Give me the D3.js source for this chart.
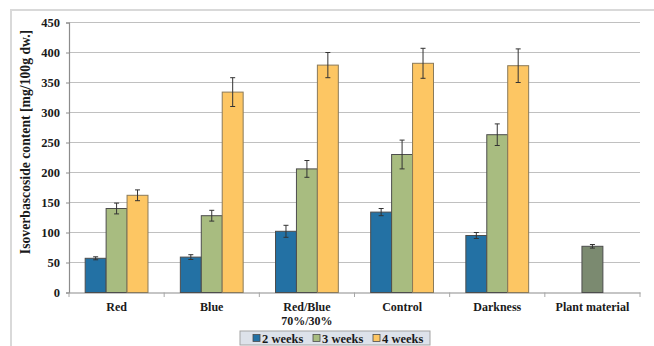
<!DOCTYPE html>
<html>
<head>
<meta charset="utf-8">
<script src="https://cdn.jsdelivr.net/npm/d3@7"></script>
<style>
  html, body { margin: 0; padding: 0; background: #ffffff; }
  svg { display: block; }
  text { font-family: "Liberation Serif", "Times New Roman", serif; font-weight: bold; fill: #1a1a1a; }
</style>
</head>
<body>
<svg id="chart" width="654" height="346"></svg>
<script>
// Isoverbascoside content by light treatment and culture time
const categories = ["Red", "Blue", "Red/Blue\n70%/30%", "Control", "Darkness", "Plant material"];
const seriesNames = ["2 weeks", "3 weeks", "4 weeks"];
const weeks2 = [57, 59, 102, 134, 95, null];
const weeks3 = [140, 128, 206, 230, 263, 77];
const weeks4 = [162, 334, 379, 382, 378, null];
const err2 = [2.5, 4, 10, 6, 5, null];
const err3 = [9, 9, 14, 24, 18, 3];
const err4 = [9, 24, 21, 25, 28, null];
const yTicks = [0, 50, 100, 150, 200, 250, 300, 350, 400, 450];

const seriesColors = ["#2371a4", "#a8bc80", "#fdc663"];
const plantColor = "#7b8a70";

const svg = d3.select("#chart");

// outer chart frame
svg.append("path")
  .attr("d", "M11,346 V10 H654")
  .attr("fill", "none")
  .attr("stroke", "#d9d9d9")
  .attr("stroke-width", 2);

const x = d3.scaleBand().domain(categories).range([69, 640]).padding(0);
const y = d3.scaleLinear().domain([0, 450]).range([292.5, 22.5]);
const barW = x.bandwidth() * 0.22;

// gridlines
svg.append("g")
  .selectAll("line")
  .data(yTicks.filter(d => d > 0))
  .join("line")
  .attr("x1", 69).attr("x2", 640)
  .attr("y1", d => y(d)).attr("y2", d => y(d))
  .attr("stroke", "#c0c0c0")
  .attr("stroke-width", 1.2);

// y axis
const yAxis = svg.append("g")
  .attr("transform", "translate(69,0)")
  .call(d3.axisLeft(y).tickValues(yTicks).tickSize(3).tickPadding(6))
  .attr("font-family", null);
yAxis.select(".domain").attr("stroke", "#8c8c8c").attr("stroke-width", 1.2);
yAxis.selectAll(".tick line").attr("stroke", "#8c8c8c");
yAxis.selectAll(".tick text")
  .attr("font-size", 12.5)
  .attr("fill", "#1a1a1a");

// x axis
const xAxis = svg.append("g")
  .attr("transform", "translate(0,292.5)")
  .call(d3.axisBottom(x).tickSize(0).tickFormat(""));
xAxis.select(".domain").attr("stroke", "#8c8c8c").attr("stroke-width", 1.2);
xAxis.selectAll(".tick").remove();
const bounds = categories.map(c => x(c)).concat([x(categories[categories.length - 1]) + x.bandwidth()]);
svg.append("g")
  .selectAll("line")
  .data(bounds)
  .join("line")
  .attr("x1", d => d).attr("x2", d => d)
  .attr("y1", 292.5).attr("y2", 297)
  .attr("stroke", "#a6a6a6");

// bars
const series = [weeks2, weeks3, weeks4];
const errors = [err2, err3, err4];
const barData = [];
categories.forEach((c, i) => {
  series.forEach((s, k) => {
    if (s[i] == null) return;
    const single = series.filter(ss => ss[i] != null).length === 1;
    const cx = x(c) + x.bandwidth() / 2 + (single ? 0 : (k - 1) * barW);
    barData.push({
      cat: c, k, value: s[i], err: errors[k][i], cx,
      color: single ? plantColor : seriesColors[k]
    });
  });
});

svg.append("g")
  .selectAll("rect")
  .data(barData)
  .join("rect")
  .attr("x", d => d.cx - barW / 2)
  .attr("y", d => y(d.value))
  .attr("width", barW)
  .attr("height", d => y(0) - y(d.value))
  .attr("fill", d => d.color)
  .attr("stroke", d => d.k === 2 ? "#8a7a5a" : "#4d4d4d")
  .attr("stroke-width", 1);

// error bars
const eb = svg.append("g").attr("stroke", "#333333").attr("stroke-width", 1);
barData.forEach(d => {
  const top = y(d.value + d.err), bot = y(d.value - d.err);
  eb.append("line").attr("x1", d.cx).attr("x2", d.cx).attr("y1", top).attr("y2", bot);
  eb.append("line").attr("x1", d.cx - 2.5).attr("x2", d.cx + 2.5).attr("y1", top).attr("y2", top);
  eb.append("line").attr("x1", d.cx - 2.5).attr("x2", d.cx + 2.5).attr("y1", bot).attr("y2", bot);
});

// category labels
const catG = svg.append("g");
categories.forEach(c => {
  const t = catG.append("text")
    .attr("x", x(c) + x.bandwidth() / 2)
    .attr("y", 311)
    .attr("text-anchor", "middle")
    .attr("font-size", 12);
  c.split("\n").forEach((line, j) => {
    t.append("tspan")
      .attr("x", x(c) + x.bandwidth() / 2)
      .attr("dy", j === 0 ? 0 : 14)
      .text(line);
  });
});

// y axis title
svg.append("text")
  .attr("transform", "translate(30,142) rotate(-90)")
  .attr("text-anchor", "middle")
  .attr("font-size", 13.7)
  .text("Isoverbascoside content [mg/100g dw.]");

// legend
const lg = svg.append("g").attr("transform", "translate(240,331)");
lg.append("rect")
  .attr("x", 0).attr("y", 0)
  .attr("width", 190).attr("height", 14)
  .attr("fill", "#dde2ea")
  .attr("stroke", "#a3a3a3");
const legendX = [13, 73, 133];
seriesNames.forEach((name, k) => {
  lg.append("rect")
    .attr("x", legendX[k]).attr("y", 3.5)
    .attr("width", 7).attr("height", 7)
    .attr("fill", seriesColors[k])
    .attr("stroke", "#4d4d4d")
    .attr("stroke-width", 0.8);
  lg.append("text")
    .attr("x", legendX[k] + 9)
    .attr("y", 11.5)
    .attr("font-size", 12.5)
    .text(name);
});
</script>
</body>
</html>
